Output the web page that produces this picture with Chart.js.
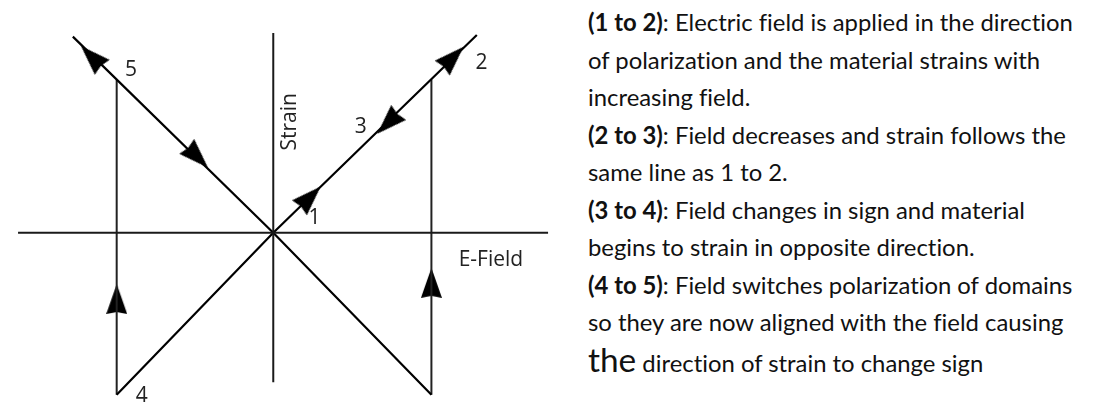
<!DOCTYPE html>
<html>
<head>
<meta charset="utf-8">
<script src="https://cdn.jsdelivr.net/npm/chart.js@4.4.1/dist/chart.umd.min.js"></script>
<style>
	body{margin:0;background:#fff;width:1099px;height:415px;overflow:hidden;position:relative;}
	#grafica{position:absolute;left:0;top:0;}
	#notas{position:absolute;left:588px;top:3px;font-family:Lato,"Open Sans",sans-serif;font-size:22px;line-height:37.5px;color:#111;white-space:nowrap;font-variant-ligatures:none;}
	#notas div{height:37.5px;}
	#notas .grande{font-size:1.4em;}
</style>
</head>
<body>
<canvas id="grafica" width="560" height="415"></canvas>
<div id="notas">
	<div><span id="lineaRef"><b>(1 to 2)</b>: Electric field is applied in the direction</span></div>
	<div>of polarization and the material strains with</div>
	<div>increasing field.</div>
	<div><b>(2 to 3)</b>: Field decreases and strain follows the</div>
	<div>same line as 1 to 2.</div>
	<div><b>(3 to 4)</b>: Field changes in sign and material</div>
	<div>begins to strain in opposite direction.</div>
	<div><b>(4 to 5)</b>: Field switches polarization of domains</div>
	<div>so they are now aligned with the field causing</div>
	<div><span class="grande">the</span> direction of strain to change sign</div>
</div>
<script>
// ejes (E-Field horizontal, Strain vertical), unidades arbitrarias
var ejeCampo=[{x:-1.63,y:0},{x:1.755,y:0}];
var ejeDeformacion=[{x:0,y:1.294},{x:0,y:-0.969}];
// recorridos del ciclo
var lineaSubida=[{x:-1,y:-1.05},{x:0,y:0},{x:1.3,y:1.28}];
var lineaBajada=[{x:-1.28,y:1.27},{x:0,y:0},{x:1.01,y:-1.05}];
var cambioIzq=[{x:-1,y:-1.05},{x:-1,y:0.99}];
var cambioDer=[{x:1.01,y:-1.05},{x:1.01,y:0.99}];
// flechas: posicion y direccion (grados)
var flechasX=[-1.16,-0.485,0.235,0.733,1.147,-1,1.01];
var flechasY=[1.14,0.49,0.23,0.71,1.135,-0.43,-0.325];
var flechasDir=[-45,135,45,-135,45,0,0];
// etiquetas de puntos y ejes
var etiquetas=['1','2','3','4','5','E-Field','Strain'];
var etiquetasX=[0.264,1.33,0.558,-0.84,-0.908,1.39,0.104];
var etiquetasY=[0.098,1.10,0.687,-1.06,1.055,-0.178,0.718];
var etiquetasGiro=[0,0,0,0,0,0,-90];

// ajustar tamaño del texto de la derecha
(function(){
	var ref=document.getElementById('lineaRef');
	var notas=document.getElementById('notas');
	var w=ref.getBoundingClientRect().width;
	var fs=22*485/w;
	notas.style.fontSize=fs.toFixed(2)+'px';
})();

function crearFlecha(){
	var c=document.createElement('canvas');
	c.width=21;c.height=30;
	var g=c.getContext('2d');
	g.fillStyle='#000';
	g.beginPath();
	g.moveTo(10.5,0);
	g.lineTo(21,30);
	g.lineTo(10.5,28);
	g.lineTo(0,30);
	g.closePath();
	g.fill();
	return c;
}

function segmento(datos,color,ancho){
	var ds=new Object();
	ds.data=datos;
	ds.showLine=true;
	ds.borderColor=color;
	ds.borderWidth=ancho;
	ds.pointRadius=0;
	ds.fill=false;
	ds.tension=0;
	return ds;
}

var DATASETS=new Array();
DATASETS.push(segmento(ejeCampo,'#1a1a1a',2));
DATASETS.push(segmento(ejeDeformacion,'#1a1a1a',2));
DATASETS.push(segmento(lineaSubida,'#000',2.2));
DATASETS.push(segmento(lineaBajada,'#000',2.2));
DATASETS.push(segmento(cambioIzq,'#222',2));
DATASETS.push(segmento(cambioDer,'#222',2));

var puntosFlecha=new Array();
for(var i=0;i<flechasX.length;i++){
	puntosFlecha.push({x:flechasX[i],y:flechasY[i]});
}
DATASETS.push({
	data:puntosFlecha,
	showLine:false,
	pointStyle:crearFlecha(),
	pointRadius:10,
	pointRotation:flechasDir
});

var pluginEtiquetas={
	id:'etiquetas',
	afterDatasetsDraw:function(chart){
		var ctx=chart.ctx;
		ctx.save();
		ctx.fillStyle='#222';
		ctx.font='21px "Open Sans", sans-serif';
		ctx.textAlign='center';
		ctx.textBaseline='middle';
		for(var i=0;i<etiquetas.length;i++){
			var px=chart.scales.x.getPixelForValue(etiquetasX[i]);
			var py=chart.scales.y.getPixelForValue(etiquetasY[i]);
			ctx.save();
			ctx.translate(px,py);
			ctx.rotate(etiquetasGiro[i]*Math.PI/180);
			ctx.fillText(etiquetas[i],0,0);
			ctx.restore();
		}
		ctx.restore();
	}
};

var config={
	type:'scatter',
	data:{datasets:DATASETS},
	options:{
		responsive:false,
		animation:false,
		layout:{padding:0},
		plugins:{legend:{display:false},tooltip:{enabled:false}},
		scales:{
			x:{type:'linear',min:-1.675,max:1.761,display:false},
			y:{type:'linear',min:-1.110,max:1.436,display:false}
		},
		elements:{line:{borderCapStyle:'butt'}}
	},
	plugins:[pluginEtiquetas]
};
new Chart(document.getElementById('grafica').getContext('2d'),config);
</script>
</body>
</html>
